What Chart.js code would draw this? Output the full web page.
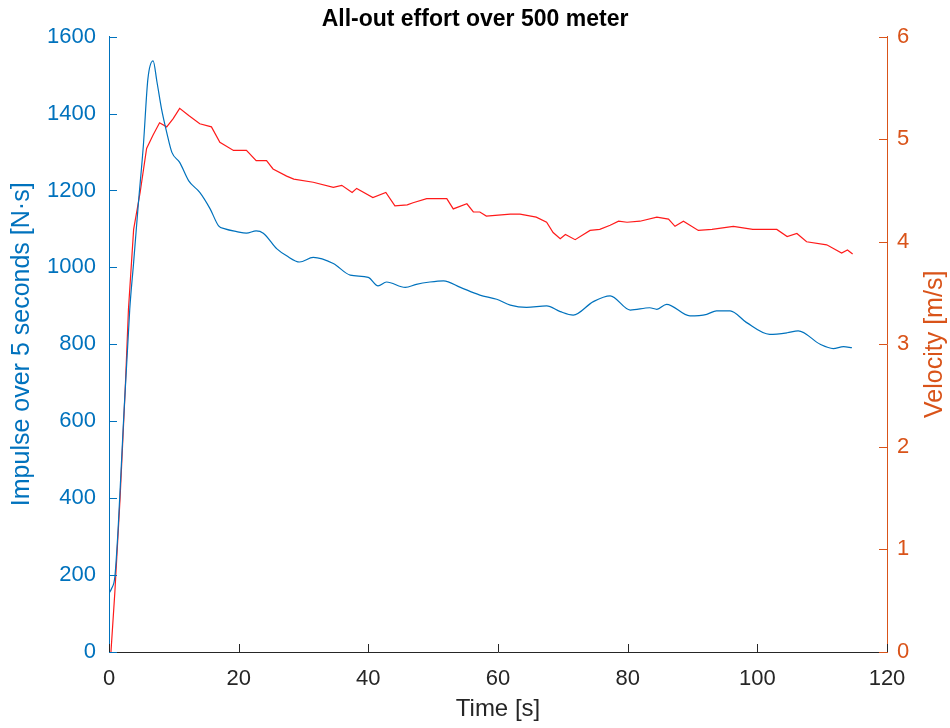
<!DOCTYPE html>
<html>
<head>
<meta charset="utf-8">
<script src="https://cdn.jsdelivr.net/npm/chart.js@4/dist/chart.umd.min.js"></script>
<style>
  html, body { margin: 0; padding: 0; background: #fff; }
  #wrap { width: 950px; height: 728px; }
</style>
</head>
<body>
<div id="wrap"><canvas id="effortChart" width="950" height="728"></canvas></div>
<script>
// Impulse over 5 seconds [N·s] (left axis)
const impulseTime = [0, 0.4, 0.9, 1.4, 2.2, 3.2, 3.8, 4.5, 5.3, 6.0, 6.8, 7.4, 8.1, 8.9, 9.7, 10.9, 12.3, 14.0, 15.6, 16.9,
  17.9, 19.7, 21.2, 22.7, 23.8, 25.9, 27.4, 29.4, 31.5, 34.6, 37.2, 40.0, 41.5, 42.8, 45.7, 47.4, 49.5, 51.6, 54.2, 57.2,
  59.8, 61.9, 64.4, 67.5, 69.6, 71.6, 74.7, 77.3, 80.4, 83.4, 84.5, 86.0, 89.6, 92.2, 93.7, 95.8, 98.3, 101.9, 104.6, 106.3,
  109.7, 111.7, 113.3, 114.6];
const impulse = [152, 165, 195, 318, 587, 891, 1013, 1160, 1317, 1490, 1537, 1482, 1412, 1351, 1299, 1273, 1225, 1195, 1152, 1108,
  1100, 1093, 1089, 1095, 1089, 1048, 1030, 1014, 1026, 1010, 980, 974, 952, 962, 948, 956, 962, 965, 948, 928,
  917, 902, 896, 900, 885, 876, 911, 926, 889, 895, 891, 904, 874, 878, 887, 887, 857, 826, 830, 835,
  800, 789, 794, 791];

// Velocity [m/s] (right axis)
const velocityTime = [0.3, 0.9, 1.7, 2.5, 3.0, 3.8, 4.8, 5.8, 6.8, 7.8, 8.9, 9.9, 10.9, 12.3, 14.0, 15.8, 17.1, 19.2, 21.2, 22.7,
  24.3, 25.3, 27.4, 28.5, 31.5, 34.6, 35.9, 37.5, 38.2, 40.7, 42.7, 44.1, 46.0, 46.9, 49.0, 51.1, 52.1, 53.1, 55.2, 56.2,
  57.2, 58.2, 61.9, 63.4, 65.9, 67.5, 68.5, 69.6, 70.4, 71.9, 74.2, 75.7, 77.3, 78.6, 79.9, 81.9, 84.5, 86.3, 87.3, 88.6,
  90.9, 93.0, 96.3, 99.3, 103.0, 104.6, 106.1, 107.6, 110.7, 113.0, 113.9, 114.7];
const velocity = [0, 0.58, 1.49, 2.56, 3.34, 4.12, 4.48, 4.91, 5.04, 5.16, 5.12, 5.2, 5.30, 5.23, 5.15, 5.12, 4.97, 4.89, 4.89, 4.79,
  4.79, 4.71, 4.64, 4.61, 4.58, 4.53, 4.55, 4.48, 4.52, 4.43, 4.48, 4.35, 4.36, 4.38, 4.42, 4.42, 4.42, 4.32, 4.37, 4.29,
  4.29, 4.25, 4.27, 4.27, 4.24, 4.19, 4.09, 4.03, 4.07, 4.02, 4.11, 4.12, 4.16, 4.20, 4.19, 4.20, 4.24, 4.22, 4.15, 4.20,
  4.11, 4.12, 4.15, 4.12, 4.12, 4.05, 4.08, 4.00, 3.97, 3.89, 3.92, 3.88];

const FONT = "'Liberation Sans', Arial, Helvetica, sans-serif";
const BLUE = '#0072BD';
const ORANGE = '#D95319';
const GRAY = '#262626';
const LABEL_SIZE = 25;

// MATLAB style: ticks point inwards, right label reads bottom to top
const matlabAxes = {
  id: 'matlabAxes',
  afterDatasetsDraw(chart) {
    const { ctx, chartArea, scales } = chart;
    const len = 8;
    ctx.save();
    ctx.lineWidth = 1;
    scales.y.ticks.forEach(t => {
      const py = Math.round(scales.y.getPixelForValue(t.value)) + 0.5;
      ctx.strokeStyle = BLUE;
      ctx.beginPath(); ctx.moveTo(chartArea.left, py); ctx.lineTo(chartArea.left + len, py); ctx.stroke();
    });
    scales.y1.ticks.forEach(t => {
      const py = Math.round(scales.y1.getPixelForValue(t.value)) + 0.5;
      ctx.strokeStyle = ORANGE;
      ctx.beginPath(); ctx.moveTo(chartArea.right, py); ctx.lineTo(chartArea.right - len, py); ctx.stroke();
    });
    scales.x.ticks.forEach(t => {
      const px = Math.round(scales.x.getPixelForValue(t.value)) + 0.5;
      ctx.strokeStyle = GRAY;
      ctx.beginPath(); ctx.moveTo(px, chartArea.bottom); ctx.lineTo(px, chartArea.bottom - len); ctx.stroke();
    });

    ctx.translate(935, (chartArea.top + chartArea.bottom) / 2);
    ctx.rotate(-Math.PI / 2);
    ctx.fillStyle = ORANGE;
    ctx.font = LABEL_SIZE + 'px ' + FONT;
    ctx.textAlign = 'center';
    ctx.textBaseline = 'middle';
    ctx.fillText('Velocity [m/s]', 0, 0);
    ctx.restore();
  }
};

new Chart(document.getElementById('effortChart'), {
  type: 'line',
  data: {
    datasets: [
      {
        label: 'Impulse',
        data: impulseTime.map((t, i) => ({ x: t, y: impulse[i] })),
        borderColor: BLUE,
        borderWidth: 1.2,
        pointRadius: 0,
        cubicInterpolationMode: 'monotone',
        fill: false,
        yAxisID: 'y',
      },
      {
        label: 'Velocity',
        data: velocityTime.map((t, i) => ({ x: t, y: velocity[i] })),
        borderColor: '#FF1A1A',
        borderWidth: 1.2,
        pointRadius: 0,
        tension: 0,
        fill: false,
        yAxisID: 'y1',
      },
    ],
  },
  options: {
    responsive: false,
    animation: false,
    devicePixelRatio: 1,
    layout: { padding: 0 },
    plugins: {
      legend: { display: false },
      tooltip: { enabled: false },
      title: {
        display: true,
        text: 'All-out effort over 500 meter',
        color: '#000',
        font: { family: FONT, size: 23, weight: 'bold' },
        padding: { top: 6, bottom: 3 },
      },
    },
    scales: {
      x: {
        type: 'linear',
        min: 0,
        max: 120,
        afterFit: s => { s.height = 76; },
        grid: { display: false, drawTicks: false },
        border: { display: true, color: GRAY, width: 1 },
        ticks: { stepSize: 20, color: GRAY, padding: 14, maxRotation: 0, font: { family: FONT, size: 22 }, callback: v => String(v) },
        title: { display: true, text: 'Time [s]', color: GRAY, font: { family: FONT, size: 24 }, padding: { top: 0, bottom: 4 } },
      },
      y: {
        position: 'left',
        min: 0,
        max: 1600,
        afterFit: s => { s.width = 109; },
        grid: { display: false, drawTicks: false },
        border: { display: true, color: BLUE, width: 1 },
        ticks: { stepSize: 200, color: BLUE, padding: 13, font: { family: FONT, size: 22 }, callback: v => String(v) },
        title: { display: true, text: 'Impulse over 5 seconds [N·s]', color: BLUE, font: { family: FONT, size: LABEL_SIZE }, padding: { top: 7, bottom: 0 } },
      },
      y1: {
        position: 'right',
        min: 0,
        max: 6,
        afterFit: s => { s.width = 63; },
        grid: { display: false, drawTicks: false },
        border: { display: true, color: ORANGE, width: 1 },
        ticks: { stepSize: 1, color: ORANGE, padding: 10, font: { family: FONT, size: 22 }, callback: v => String(v) },
        title: { display: false },
      },
    },
  },
  plugins: [matlabAxes],
});
</script>
</body>
</html>
